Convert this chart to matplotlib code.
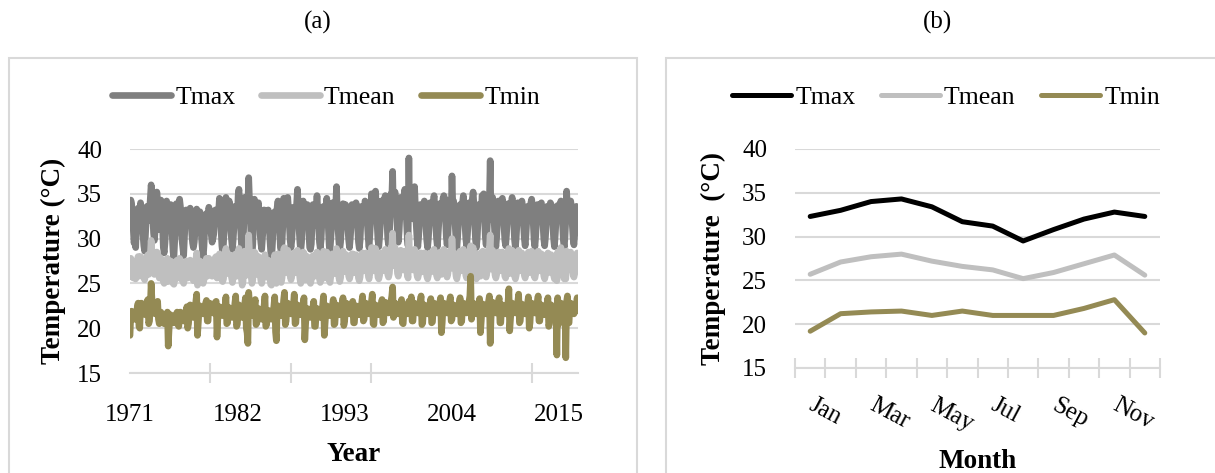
import matplotlib
matplotlib.use("Agg")
import matplotlib.pyplot as plt
from matplotlib.patches import Rectangle
from matplotlib.ticker import FixedLocator
import numpy as np

plt.rcParams['font.family'] = ['Liberation Serif', 'DejaVu Serif']

# ---------------- Data: panel (a) monthly series 1971-2016 ----------------
years = list(range(1971, 2017))
year_labels = ['1971', '1982', '1993', '2004', '2015']

tmax_monthly = [
    32.1, 34.3, 33.9, 32.6, 31.0, 29.5, 30.2, 29.0, 31.6, 33.0, 33.4, 31.8,
    32.8, 34.0, 33.2, 31.5, 30.4, 29.2, 28.6, 30.5, 32.2, 33.6, 32.9, 32.0,
    33.0, 34.5, 36.0, 34.8, 32.5, 30.6, 29.8, 31.0, 32.4, 35.2, 34.0, 32.8,
    31.0, 33.2, 34.3, 33.0, 31.5, 29.0, 28.4, 29.5, 31.2, 34.2, 33.5, 31.5,
    31.8, 33.5, 33.8, 32.5, 30.2, 28.5, 27.8, 29.8, 31.0, 33.9, 33.0, 31.2,
    32.0, 34.4, 33.6, 31.8, 29.8, 29.0, 28.1, 30.2, 32.0, 33.2, 32.6, 31.5,
    31.5, 33.0, 33.4, 32.8, 30.5, 29.5, 29.0, 29.6, 30.8, 32.5, 33.3, 31.9,
    31.6, 32.8, 33.0, 32.2, 30.0, 28.8, 27.9, 29.2, 31.4, 32.0, 32.8, 31.0,
    32.2, 33.5, 32.9, 31.5, 30.4, 29.6, 30.0, 30.5, 31.8, 33.2, 33.0, 32.4,
    32.0, 33.0, 34.5, 33.2, 31.0, 29.2, 28.4, 29.5, 31.5, 33.4, 34.6, 32.2,
    31.8, 33.5, 34.2, 33.0, 30.8, 29.8, 28.8, 30.0, 31.5, 33.6, 33.1, 31.7,
    32.3, 34.8, 35.5, 33.6, 31.2, 29.5, 28.2, 29.0, 31.8, 34.6, 33.5, 32.0,
    32.5, 34.0, 36.8, 34.2, 32.0, 30.0, 28.0, 29.4, 32.5, 34.4, 33.8, 32.8,
    31.5, 33.0, 34.0, 32.6, 30.5, 29.5, 28.8, 30.2, 31.2, 33.2, 32.8, 31.6,
    31.0, 32.8, 33.2, 32.0, 30.0, 28.6, 27.4, 29.0, 30.8, 32.6, 33.0, 31.3,
    31.4, 33.5, 34.2, 33.0, 31.0, 29.0, 28.6, 29.6, 31.5, 34.5, 34.0, 32.1,
    32.2, 33.8, 34.6, 33.2, 31.5, 29.8, 29.0, 29.8, 31.6, 33.5, 33.0, 32.0,
    31.9, 34.0, 35.5, 33.5, 31.0, 29.5, 28.6, 29.6, 32.0, 34.2, 33.4, 32.2,
    31.6, 33.0, 33.8, 32.5, 30.6, 29.0, 28.8, 29.4, 31.5, 33.8, 32.8, 31.5,
    32.0, 33.5, 34.8, 33.0, 31.2, 29.6, 28.9, 29.8, 31.8, 33.2, 33.6, 32.0,
    31.8, 33.2, 34.5, 33.0, 31.0, 29.2, 28.7, 30.0, 31.5, 34.0, 33.2, 31.8,
    32.1, 33.6, 35.8, 32.8, 30.9, 29.5, 28.8, 29.6, 31.4, 33.7, 33.9, 32.3,
    32.0, 33.8, 33.6, 32.6, 31.0, 29.8, 29.0, 30.1, 31.6, 33.8, 33.6, 32.4,
    31.9, 33.5, 34.0, 33.4, 31.2, 29.6, 28.9, 29.8, 31.9, 33.6, 33.2, 32.1,
    32.2, 34.2, 34.0, 33.0, 31.5, 30.0, 29.0, 30.4, 32.2, 35.0, 34.2, 32.6,
    32.4, 34.0, 35.3, 33.2, 31.4, 29.8, 29.1, 30.2, 31.8, 34.2, 33.5, 32.2,
    32.6, 34.5, 34.8, 34.0, 32.0, 30.0, 29.3, 30.5, 32.5, 35.0, 34.6, 37.5,
    32.8, 34.8, 35.2, 34.2, 32.8, 30.5, 29.6, 30.8, 32.6, 34.6, 34.0, 33.2,
    32.5, 34.0, 35.5, 34.0, 32.0, 30.2, 29.2, 39.0, 32.2, 34.2, 33.6, 32.4,
    32.2, 33.8, 35.8, 33.5, 31.6, 30.0, 29.1, 30.2, 31.9, 33.8, 33.3, 32.3,
    32.0, 33.6, 34.2, 33.2, 31.2, 29.8, 29.0, 30.0, 31.8, 34.0, 33.6, 32.1,
    32.3, 34.2, 34.8, 33.5, 31.5, 30.0, 29.1, 30.5, 32.0, 33.9, 33.5, 32.4,
    32.5, 34.5, 34.8, 34.5, 32.2, 30.2, 29.3, 30.4, 32.4, 34.3, 33.8, 32.6,
    37.0, 33.8, 34.2, 33.0, 31.4, 29.8, 29.0, 30.2, 31.8, 33.5, 33.8, 32.2,
    32.4, 34.0, 34.8, 33.6, 31.6, 30.0, 29.2, 30.4, 32.0, 34.0, 33.6, 32.5,
    32.0, 34.4, 35.2, 33.8, 31.5, 29.8, 29.0, 30.0, 32.0, 33.8, 33.4, 32.2,
    32.6, 34.8, 34.5, 35.0, 32.4, 30.2, 29.3, 30.6, 32.5, 34.6, 34.0, 38.7,
    32.2, 34.0, 34.6, 33.4, 31.6, 29.9, 29.1, 30.2, 32.0, 34.2, 33.6, 32.3,
    32.4, 34.2, 34.5, 33.5, 31.4, 29.8, 29.2, 30.4, 32.2, 33.9, 33.4, 32.5,
    32.0, 33.8, 34.6, 33.2, 31.5, 29.8, 29.0, 30.1, 31.8, 34.0, 33.6, 32.2,
    32.3, 33.6, 34.2, 33.4, 31.5, 30.0, 29.2, 30.4, 32.0, 33.6, 33.5, 32.4,
    32.2, 34.0, 34.4, 33.5, 31.6, 29.8, 29.1, 30.3, 32.1, 33.8, 33.6, 32.2,
    32.0, 33.8, 34.0, 33.0, 31.4, 29.9, 29.2, 30.2, 31.9, 33.6, 33.4, 32.3,
    32.4, 34.0, 33.8, 33.2, 31.5, 30.0, 29.1, 30.4, 32.0, 33.5, 33.7, 32.2,
    32.3, 33.9, 34.2, 33.6, 31.6, 29.8, 29.0, 30.2, 32.2, 35.3, 33.2, 32.5,
    32.6, 34.0, 34.2, 33.5, 31.5, 30.0, 29.3, 30.5, 32.0, 33.6, 33.4, 33.2,
]

tmean_monthly = [
    25.8, 27.8, 27.5, 26.5, 25.6, 25.8, 26.0, 25.5, 26.2, 27.4, 28.0, 25.8,
    26.2, 28.0, 27.8, 27.0, 26.0, 25.6, 25.4, 25.9, 26.8, 28.0, 28.2, 26.0,
    26.5, 28.2, 29.8, 28.5, 27.0, 26.2, 26.0, 26.2, 27.0, 28.5, 28.4, 26.8,
    25.6, 27.0, 27.8, 27.0, 26.0, 25.2, 25.0, 25.4, 26.2, 27.6, 27.8, 25.2,
    25.8, 27.2, 27.5, 26.8, 25.5, 25.0, 24.9, 25.5, 26.0, 27.5, 27.6, 25.6,
    26.0, 27.8, 27.6, 26.6, 25.4, 25.2, 25.0, 25.6, 26.6, 27.4, 27.5, 25.6,
    25.8, 27.2, 27.6, 27.2, 26.0, 25.6, 25.3, 25.5, 26.2, 27.6, 28.4, 24.8,
    25.9, 27.4, 27.5, 27.0, 26.0, 25.3, 25.0, 25.4, 26.5, 27.3, 27.8, 25.8,
    26.4, 27.8, 27.6, 26.9, 26.2, 25.8, 25.9, 26.2, 27.0, 27.9, 28.0, 25.6,
    26.5, 27.4, 28.3, 27.6, 26.3, 25.4, 25.2, 25.5, 26.6, 28.0, 28.9, 26.2,
    26.1, 27.6, 28.2, 27.4, 26.1, 25.6, 25.1, 25.7, 26.6, 28.1, 28.3, 25.8,
    26.3, 28.2, 28.9, 27.8, 26.4, 25.5, 24.8, 25.2, 26.8, 28.6, 28.4, 25.9,
    26.0, 26.5, 30.4, 28.4, 27.0, 25.8, 25.0, 25.4, 27.2, 28.5, 28.4, 26.6,
    26.0, 27.4, 28.0, 27.2, 26.0, 25.3, 25.0, 25.7, 26.4, 27.9, 28.2, 25.8,
    25.7, 27.1, 27.6, 26.9, 25.7, 24.9, 24.8, 25.1, 26.2, 27.5, 28.2, 25.5,
    25.0, 27.6, 28.3, 27.7, 26.4, 25.3, 25.1, 25.6, 26.7, 28.8, 29.0, 26.2,
    26.5, 28.1, 28.7, 27.8, 26.7, 25.8, 25.4, 25.8, 26.9, 28.0, 28.4, 26.2,
    26.2, 28.1, 28.7, 27.9, 26.4, 25.5, 25.0, 25.6, 27.0, 28.5, 28.4, 25.4,
    26.0, 27.4, 28.0, 27.2, 26.1, 25.2, 25.0, 25.4, 26.6, 28.1, 27.9, 25.8,
    26.1, 27.5, 28.5, 27.4, 26.3, 25.5, 25.1, 25.5, 26.8, 27.9, 28.6, 25.6,
    26.2, 27.6, 28.5, 27.6, 26.4, 25.4, 25.1, 25.8, 26.7, 28.3, 28.2, 26.1,
    26.3, 27.8, 28.9, 27.5, 26.4, 25.6, 25.2, 25.6, 26.7, 28.2, 28.6, 26.3,
    26.4, 28.0, 28.2, 27.5, 26.5, 25.8, 25.5, 25.9, 26.9, 28.3, 28.3, 26.5,
    26.2, 27.7, 28.2, 27.8, 26.5, 25.6, 25.3, 25.7, 27.0, 28.2, 28.4, 26.4,
    26.6, 28.2, 28.4, 27.7, 26.7, 25.9, 25.5, 26.1, 27.2, 29.0, 29.0, 26.5,
    26.4, 28.1, 28.9, 27.8, 26.6, 25.7, 25.5, 25.9, 26.9, 28.4, 28.3, 26.4,
    26.7, 28.4, 28.8, 28.1, 27.0, 26.0, 25.7, 26.1, 27.4, 29.0, 29.1, 30.6,
    27.0, 28.6, 29.0, 28.3, 27.4, 26.1, 25.8, 26.3, 27.4, 28.7, 28.6, 26.9,
    26.5, 28.0, 28.6, 28.0, 27.0, 26.0, 25.6, 30.4, 27.2, 28.4, 28.5, 26.6,
    26.5, 28.0, 28.8, 28.0, 26.8, 25.9, 25.6, 26.0, 27.0, 28.4, 28.4, 26.3,
    26.3, 27.9, 28.4, 27.8, 26.6, 25.8, 25.5, 25.9, 26.9, 28.4, 28.4, 26.3,
    26.5, 28.2, 28.8, 28.0, 26.8, 25.9, 25.6, 26.1, 27.1, 28.4, 28.5, 26.0,
    26.5, 28.4, 28.8, 28.0, 27.1, 26.0, 25.7, 26.1, 27.3, 28.6, 28.6, 26.7,
    30.0, 28.0, 28.4, 27.7, 26.7, 25.8, 25.5, 26.0, 27.0, 28.2, 28.6, 26.4,
    26.6, 28.2, 28.8, 28.1, 26.9, 25.9, 25.6, 26.1, 27.1, 28.5, 28.6, 29.2,
    26.5, 28.4, 29.0, 28.1, 26.7, 25.8, 25.5, 25.9, 27.1, 28.3, 28.3, 25.8,
    26.7, 28.5, 28.6, 28.2, 27.2, 26.0, 25.7, 26.2, 27.3, 28.8, 28.8, 30.4,
    26.6, 28.2, 28.7, 28.0, 26.8, 25.9, 25.6, 26.0, 27.1, 28.5, 28.5, 26.4,
    26.5, 28.2, 28.5, 27.9, 26.7, 25.8, 25.6, 26.1, 27.2, 28.4, 28.9, 26.1,
    26.5, 28.1, 28.7, 27.8, 26.7, 25.8, 25.5, 25.9, 27.0, 28.5, 28.7, 26.4,
    26.5, 27.9, 28.4, 27.9, 26.7, 25.9, 25.6, 26.1, 27.1, 28.2, 28.5, 26.2,
    26.4, 28.2, 28.6, 28.0, 26.8, 25.8, 25.6, 26.1, 27.2, 28.4, 28.6, 26.5,
    26.4, 28.0, 28.3, 27.6, 26.6, 25.8, 25.5, 25.9, 27.0, 28.2, 28.4, 26.2,
    26.4, 28.1, 28.2, 27.8, 26.7, 25.9, 25.5, 26.1, 27.1, 25.3, 28.5, 26.3,
    26.5, 28.1, 29.0, 28.0, 26.8, 25.8, 25.5, 26.0, 25.5, 28.6, 28.4, 26.5,
    26.6, 28.2, 28.5, 28.0, 26.7, 25.9, 25.7, 26.1, 27.1, 28.2, 28.4, 27.6,
]

tmin_monthly = [
    19.2, 21.6, 21.9, 21.2, 21.0, 21.4, 21.3, 21.0, 21.5, 22.4, 22.8, 20.2,
    20.0, 22.5, 22.8, 22.3, 21.8, 22.0, 21.6, 21.5, 22.2, 23.0, 23.2, 20.5,
    20.8, 22.6, 25.0, 23.2, 22.5, 22.0, 21.8, 21.6, 22.0, 22.6, 23.0, 21.0,
    20.5, 21.6, 21.8, 21.2, 21.0, 20.8, 20.5, 20.6, 21.0, 21.5, 21.8, 18.0,
    19.8, 21.2, 21.5, 21.0, 20.6, 20.8, 20.6, 20.9, 21.2, 21.6, 21.8, 20.4,
    20.2, 21.4, 21.8, 21.5, 21.0, 21.2, 20.8, 21.0, 21.5, 22.0, 22.4, 20.0,
    20.5, 22.0, 22.6, 22.0, 21.6, 21.5, 21.2, 21.3, 21.8, 23.0, 23.8, 19.2,
    20.6, 22.2, 22.5, 22.4, 22.0, 21.8, 21.6, 21.8, 22.2, 22.8, 23.1, 20.8,
    20.8, 22.6, 22.8, 22.5, 22.0, 21.9, 21.7, 21.8, 22.4, 22.9, 23.0, 19.0,
    21.0, 22.0, 22.4, 22.2, 21.6, 21.6, 21.4, 21.5, 21.9, 22.6, 23.5, 20.5,
    20.6, 21.8, 22.3, 22.0, 21.5, 21.4, 21.2, 21.4, 21.8, 22.8, 23.6, 20.2,
    20.4, 21.8, 22.6, 22.2, 21.8, 21.6, 21.2, 21.4, 21.9, 22.7, 23.4, 20.0,
    19.5, 18.3, 24.0, 22.8, 22.0, 21.6, 21.4, 21.5, 22.0, 22.6, 23.2, 20.4,
    20.6, 21.8, 22.2, 21.8, 21.4, 21.2, 21.0, 21.2, 21.6, 22.6, 23.6, 20.2,
    20.4, 21.6, 22.0, 21.8, 21.4, 21.3, 21.0, 21.3, 21.7, 22.5, 23.5, 19.6,
    18.6, 21.8, 22.5, 22.4, 21.9, 21.6, 21.4, 21.6, 22.0, 23.2, 24.0, 20.4,
    20.8, 22.4, 22.8, 22.5, 22.0, 21.8, 21.6, 21.8, 22.2, 22.6, 23.8, 20.5,
    20.6, 22.2, 22.6, 22.4, 21.8, 21.6, 21.5, 21.6, 22.0, 22.8, 23.4, 18.7,
    20.5, 21.8, 22.2, 22.0, 21.6, 21.4, 21.2, 21.4, 21.8, 22.4, 23.0, 20.2,
    20.2, 21.6, 22.2, 21.9, 21.5, 21.4, 21.2, 21.3, 21.8, 22.6, 23.6, 19.2,
    20.6, 22.0, 22.5, 22.2, 21.8, 21.6, 21.4, 21.6, 22.0, 22.6, 23.2, 20.4,
    20.5, 22.0, 22.6, 22.3, 21.9, 21.7, 21.5, 21.6, 22.1, 22.8, 23.4, 20.3,
    20.8, 22.2, 22.8, 22.4, 22.0, 21.8, 21.6, 21.8, 22.2, 22.8, 23.0, 20.6,
    20.6, 22.0, 22.5, 22.3, 21.9, 21.7, 21.5, 21.7, 22.1, 22.9, 23.6, 20.8,
    21.0, 22.3, 22.8, 22.5, 22.0, 21.8, 21.6, 21.8, 22.3, 23.0, 23.8, 20.5,
    20.4, 22.2, 22.6, 22.4, 21.9, 21.7, 21.5, 21.6, 22.0, 22.6, 23.2, 20.6,
    20.8, 22.4, 22.9, 22.6, 22.1, 21.9, 21.7, 21.8, 22.3, 23.0, 23.6, 24.6,
    21.2, 22.5, 22.8, 22.4, 22.0, 21.8, 21.6, 21.8, 22.2, 22.8, 23.2, 20.6,
    20.5, 22.0, 22.6, 22.4, 22.0, 21.8, 21.6, 23.0, 22.2, 22.6, 23.5, 20.8,
    20.8, 22.3, 22.8, 22.5, 22.0, 21.9, 21.7, 21.8, 22.2, 23.0, 23.6, 20.4,
    20.6, 22.2, 22.6, 22.4, 22.0, 21.8, 21.6, 21.8, 22.1, 22.8, 23.3, 20.6,
    20.7, 22.3, 22.8, 22.5, 22.0, 21.9, 21.7, 21.8, 22.2, 22.9, 23.4, 19.5,
    20.6, 22.4, 22.8, 22.5, 22.1, 21.9, 21.7, 21.9, 22.3, 23.0, 23.5, 20.8,
    21.0, 22.2, 22.6, 22.4, 22.0, 21.8, 21.6, 21.8, 22.2, 22.9, 23.4, 20.6,
    20.8, 22.4, 22.8, 22.6, 22.1, 21.9, 21.7, 21.9, 22.3, 23.0, 23.6, 25.8,
    21.0, 22.4, 22.8, 22.5, 22.0, 21.8, 21.6, 21.8, 22.2, 22.8, 23.3, 19.5,
    20.8, 22.3, 22.7, 22.4, 22.0, 21.8, 21.6, 21.8, 22.2, 23.0, 23.6, 18.3,
    21.0, 22.5, 22.9, 22.6, 22.1, 21.9, 21.7, 21.9, 22.3, 22.9, 23.4, 20.6,
    20.6, 22.2, 22.6, 22.4, 22.0, 21.8, 21.6, 21.8, 22.2, 23.0, 24.4, 19.7,
    21.0, 22.4, 22.8, 22.5, 22.0, 21.9, 21.7, 21.8, 22.2, 23.0, 23.8, 20.6,
    20.8, 22.3, 22.7, 22.4, 22.0, 21.8, 21.6, 21.8, 22.2, 22.8, 23.5, 20.0,
    20.6, 22.4, 22.8, 22.5, 22.1, 21.9, 21.7, 21.9, 22.3, 23.0, 23.6, 20.8,
    20.8, 22.2, 22.6, 22.3, 21.9, 21.7, 21.5, 21.7, 22.1, 22.8, 23.4, 20.2,
    20.5, 22.2, 22.6, 22.4, 22.0, 21.8, 21.6, 21.8, 22.2, 17.0, 23.4, 20.4,
    20.8, 22.3, 22.8, 22.5, 22.0, 21.8, 21.6, 21.8, 16.7, 23.0, 23.6, 20.6,
    20.6, 22.4, 22.8, 22.4, 22.0, 21.8, 21.6, 21.8, 22.2, 22.8, 23.4, 22.0,
]

# ---------------- Data: panel (b) monthly climatology ----------------
months = ['Jan', 'Feb', 'Mar', 'Apr', 'May', 'Jun',
          'Jul', 'Aug', 'Sep', 'Oct', 'Nov', 'Dec']
tmax_clim = [32.3, 33.0, 34.0, 34.3, 33.4, 31.7, 31.2, 29.5, 30.8, 32.0, 32.8, 32.3]
tmean_clim = [25.7, 27.1, 27.7, 28.0, 27.2, 26.6, 26.2, 25.2, 25.9, 26.9, 27.9, 25.6]
tmin_clim = [19.2, 21.2, 21.4, 21.5, 21.0, 21.5, 21.0, 21.0, 21.0, 21.8, 22.8, 19.0]

series_names = ['Tmax', 'Tmean', 'Tmin']

# ---------------- Styles ----------------
W, H = 1215, 473
fig = plt.figure(figsize=(W / 100, H / 100), dpi=100)
GRID = '#D9D9D9'
C_TMAX_A = '#7F7F7F'
C_TMEAN = '#BFBFBF'
C_TMIN = '#948A54'
C_TMAX_B = '#000000'
TICK_FS = 18
LEG_FS = 18.5
LAB_FS = 19.5
LW_A = 4.8
LW_B = 3.6


def fx(px):
    return px / W


def fy(py):
    return 1 - py / H


# panel frames
fig.patches.append(Rectangle((fx(9), fy(480)), fx(637 - 9), fy(58) - fy(480),
                             transform=fig.transFigure, fill=False,
                             edgecolor=GRID, linewidth=1.5))
fig.patches.append(Rectangle((fx(666), fy(480)), fx(1230 - 666), fy(58) - fy(480),
                             transform=fig.transFigure, fill=False,
                             edgecolor=GRID, linewidth=1.5))


def style_axes(ax):
    for s in ['top', 'right', 'left']:
        ax.spines[s].set_visible(False)
    ax.spines['bottom'].set_color(GRID)
    ax.spines['bottom'].set_linewidth(1.5)
    ax.set_ylim(15, 40)
    ax.set_yticks([15, 20, 25, 30, 35, 40])
    ax.yaxis.grid(True, color=GRID, linewidth=1.5)
    ax.set_axisbelow(True)
    ax.tick_params(axis='y', length=0, labelsize=TICK_FS, pad=20)


line_kw = dict(solid_joinstyle='round', solid_capstyle='round')

# ---------------- Panel (a) ----------------
axa = fig.add_axes([fx(130), fy(373), fx(578 - 130), fy(149) - fy(373)])
style_axes(axa)
xa = np.arange(len(tmax_monthly))
axa.plot(xa, tmax_monthly, color=C_TMAX_A, lw=LW_A, label='Tmax', **line_kw)
axa.plot(xa, tmean_monthly, color=C_TMEAN, lw=LW_A, label='Tmean', **line_kw)
axa.plot(xa, tmin_monthly, color=C_TMIN, lw=LW_A, label='Tmin', **line_kw)
axa.set_xlim(0, len(tmax_monthly) - 1)
label_pos = [years.index(int(y)) * 12 for y in year_labels]
axa.xaxis.set_major_locator(FixedLocator(label_pos))
axa.set_xticklabels(year_labels)
axa.xaxis.set_minor_locator(FixedLocator(np.arange(0, len(tmax_monthly), 99)))
axa.tick_params(axis='x', which='major', length=0, labelsize=TICK_FS, pad=22)
axa.tick_params(axis='x', which='minor', length=15, width=1.5, color=GRID, direction='inout')
axa.set_xlabel('Year', fontsize=LAB_FS, fontweight='bold', labelpad=12)
axa.set_ylabel('Temperature (°C)', fontsize=LAB_FS, fontweight='bold', labelpad=8)
fig.text(fx(318), fy(22), '(a)', fontsize=TICK_FS, ha='center', va='center')
fig.legend(handles=axa.get_lines(), labels=series_names, loc='center',
           bbox_to_anchor=(fx(326), fy(98)), ncol=3, frameon=False,
           fontsize=LEG_FS, handlelength=2.3, handletextpad=0.15, columnspacing=1.0)

# ---------------- Panel (b) ----------------
axb = fig.add_axes([fx(795), fy(368), fx(1160 - 795), fy(149) - fy(368)])
style_axes(axb)
xb = np.arange(len(months))
axb.plot(xb, tmax_clim, color=C_TMAX_B, lw=LW_B, label='Tmax', **line_kw)
axb.plot(xb, tmean_clim, color=C_TMEAN, lw=LW_B, label='Tmean', **line_kw)
axb.plot(xb, tmin_clim, color=C_TMIN, lw=LW_B, label='Tmin', **line_kw)
axb.set_xlim(-0.5, len(months) - 0.5)
axb.xaxis.set_major_locator(FixedLocator(xb[::2]))
axb.set_xticklabels(months[::2], rotation=-28, ha='left', va='center',
                    rotation_mode='anchor')
axb.xaxis.set_minor_locator(FixedLocator(np.arange(-0.5, len(months), 1.0)))
axb.tick_params(axis='x', which='major', length=0, labelsize=TICK_FS, pad=26)
axb.tick_params(axis='x', which='minor', length=15, width=1.5, color=GRID, direction='inout')
axb.set_xlabel('Month', fontsize=LAB_FS, fontweight='bold', labelpad=10)
axb.set_ylabel('Temperature  (°C)', fontsize=LAB_FS, fontweight='bold', labelpad=12)
fig.text(fx(938), fy(22), '(b)', fontsize=TICK_FS, ha='center', va='center')
fig.legend(handles=axb.get_lines(), labels=series_names, loc='center',
           bbox_to_anchor=(fx(946), fy(98)), ncol=3, frameon=False,
           fontsize=LEG_FS, handlelength=2.3, handletextpad=0.15, columnspacing=1.0)

fig.savefig('out.png', dpi=100)
